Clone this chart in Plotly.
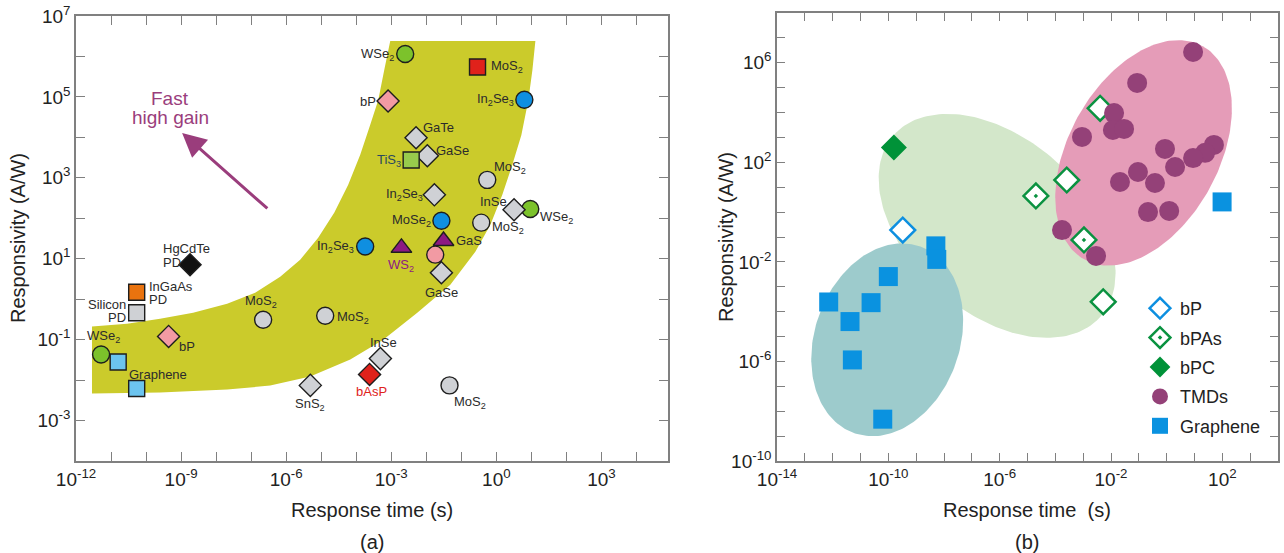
import numpy as np
import plotly.graph_objects as go

FONT = "Liberation Sans, Arial, sans-serif"
W, H = 1284, 553

# ---------------- Panel (a) data ----------------
a_labels = ["WSe<sub>2</sub>", "MoS<sub>2</sub>", "bP", "In<sub>2</sub>Se<sub>3</sub>", "GaTe", "GaSe",
            "TiS<sub>3</sub>", "MoS<sub>2</sub>", "In<sub>2</sub>Se<sub>3</sub>", "InSe", "WSe<sub>2</sub>",
            "MoSe<sub>2</sub>", "MoS<sub>2</sub>", "In<sub>2</sub>Se<sub>3</sub>", "WS<sub>2</sub>", "GaS", "",
            "GaSe", "HgCdTe|PD", "InGaAs|PD", "Silicon|PD", "MoS<sub>2</sub>", "MoS<sub>2</sub>", "bP",
            "WSe<sub>2</sub>", "", "Graphene", "SnS<sub>2</sub>", "InSe", "bAsP", "MoS<sub>2</sub>"]
a_time = [2.5e-3, 0.29, 8.1e-4, 6.3, 5.1e-3, 1.07e-2, 3.7e-3, 0.55, 1.7e-2, 3.2, 9.3,
          2.7e-2, 0.37, 1.8e-4, 1.95e-3, 3.1e-2, 1.8e-2, 2.7e-2, 1.8e-9, 5.4e-11, 5.4e-11,
          2.2e-7, 1.3e-5, 4.4e-10, 5.2e-12, 1.6e-11, 5.4e-11, 4.9e-6, 4.9e-4, 2.4e-4, 0.046]
a_resp = [1.15e6, 5.5e5, 7.9e4, 8.5e4, 9.8e3, 3.5e3, 2.75e3, 890, 380, 162, 170,
          87, 78, 20, 18.6, 27.5, 12.6, 4.5, 7.1, 1.48, 0.46,
          0.31, 0.39, 0.12, 0.043, 0.028, 6.2e-3, 7.4e-3, 0.034, 0.0138, 7.4e-3]
a_kind = ["green_circle", "red_square", "pink_diamond", "blue_circle", "grey_diamond", "grey_diamond",
          "lgreen_square", "grey_circle", "grey_diamond", "grey_diamond", "green_circle",
          "blue_circle", "grey_circle", "blue_circle", "purple_triangle", "purple_triangle", "pink_circle",
          "grey_diamond", "black_diamond", "orange_square", "grey_square", "grey_circle", "grey_circle",
          "pink_diamond", "green_circle", "lblue_square", "lblue_square", "grey_diamond", "grey_diamond",
          "red_diamond", "grey_circle"]

# high-gain band boundaries (time s, responsivity A/W)
band_upper_t = [2.86e-12, 2.86e-11, 2.51e-10, 2.2e-9, 2.06e-8, 1.3e-7, 6.75e-7, 2.51e-6, 8.2e-6,
                2.35e-5, 5.9e-5, 1.3e-4, 2.51e-4, 4.26e-4, 6.3e-4, 9.35e-4]
band_upper_r = [0.21, 0.248, 0.33, 0.465, 0.774, 1.45, 3.6, 9.44, 33, 137, 671, 3700, 2.04e4,
                8.43e4, 4.65e5, 2.42e6]
band_lower_t = [2.86e-12, 2.51e-10, 2.06e-8, 3.5e-7, 4.85e-6, 6.75e-5, 5.9e-4, 5.53e-3, 4.85e-2,
                0.251, 0.675, 1.48, 2.86, 5.18, 8.2, 10.7, 13.0]
band_lower_r = [4.65e-3, 4.9e-3, 5.82e-3, 7.3e-3, 0.0122, 0.0321, 0.1, 0.465, 2.28, 14.9, 69.2,
                380, 2094, 1.15e4, 8.43e4, 4.65e5, 2.42e6]

a_xticks = list(range(-12, 5))
a_xlabels = [-12, -9, -6, -3, 0, 3]
a_yticks = list(range(-4, 8))
a_ylabels = [-3, -1, 1, 3, 5, 7]

# ---------------- Panel (b) data ----------------
bP_t = [3.3e-10]
bP_r = [0.19]
bPAs_t = [2.0e-5, 1.07e-3, 4.07e-3, 2.57e-4, 5.25e-3]
bPAs_r = [4.47, 0.076, 1.48e4, 19.5, 2.5e-4]
bPAs_dot = [True, True, False, False, False]
bPC_t = [1.58e-10]
bPC_r = [398]
tmd_t = [8.9, 0.087, 0.0129, 0.0117, 0.0295, 9.1e-4, 0.87, 50, 24, 8.9, 2.0, 0.093, 0.021, 0.38,
         0.214, 1.23, 1.74e-4, 2.9e-3]
tmd_r = [2.7e6, 1.55e5, 9.5e3, 2.0e3, 2.2e3, 1.05e3, 347, 500, 240, 148, 65, 41, 16.2, 14.8,
         1.0, 1.12, 0.19, 0.0174]
gr_t = [5.1e-9, 5.5e-9, 1.0e-10, 7.2e-13, 2.4e-11, 4.2e-12, 5.1e-12, 6.3e-11, 98]
gr_r = [0.044, 0.0126, 2.57e-3, 2.45e-4, 2.3e-4, 4.0e-5, 1.15e-6, 4.8e-9, 2.57]

b_xticks = list(range(-14, 5))
b_xlabels = [-14, -10, -6, -2, 2]
b_yticks = list(range(-10, 9))
b_ylabels = [-10, -6, -2, 2, 6]

# ---------------- geometry / styles ----------------
XA_DOM = [76 / W, 668 / W]
YA_DOM = [1 - 461 / H, 1 - 16 / H]
XB_DOM = [777 / W, 1278 / W]
YB_DOM = [1 - 461 / H, 1 - 13 / H]
XA_RNG, YA_RNG = [-12, 4.9], [-4, 7]
XB_RNG, YB_RNG = [-14, 4], [-10, 8]

EDGE = "#1e1e1e"
STYLE = {
    "green_circle": ("circle", "#7cc22b", 17),
    "red_square": ("square", "#e0221b", 16),
    "pink_diamond": ("diamond", "#f29aa3", 17),
    "blue_circle": ("circle", "#0f8fe0", 17),
    "grey_diamond": ("diamond", "#cfd1d5", 17),
    "lgreen_square": ("square", "#98cb4c", 16),
    "grey_circle": ("circle", "#cfd1d5", 17),
    "purple_triangle": ("triangle-up", "#8d1a82", 18),
    "pink_circle": ("circle", "#f29aa3", 17),
    "black_diamond": ("diamond", "#111111", 17),
    "orange_square": ("square", "#e9730f", 16),
    "grey_square": ("square", "#cfd1d5", 16),
    "lblue_square": ("square", "#6cc4ef", 16),
    "red_diamond": ("diamond", "#e0221b", 17),
}
# label placement: (dx px, dy px up, xanchor, yanchor)
a_label_pos = [(-10, 0, "right", "middle"), (12, 0, "left", "middle"), (-11, 0, "right", "middle"),
               (-9, 0, "right", "middle"), (6, 10, "left", "middle"), (8, 5, "left", "middle"),
               (-9, 0, "right", "middle"), (6, 12, "left", "middle"), (-10, 0, "right", "middle"),
               (-6, 8, "right", "middle"), (9, -9, "left", "middle"), (-9, 0, "right", "middle"),
               (10, -5, "left", "middle"), (-10, 0, "right", "middle"), (0, -8, "center", "top"),
               (11, 0, "left", "middle"), None, (0, -11, "center", "top"),
               (-28, 16, "left", "middle"), (11, 6, "left", "middle"), (-10, 8, "right", "middle"),
               (-2, 9, "center", "bottom"), (11, -2, "left", "middle"), (9, -10, "left", "middle"),
               (2, 8, "center", "bottom"), None, (-9, 14, "left", "middle"), (0, -10, "center", "top"),
               (3, 8, "center", "bottom"), (2, -9, "center", "top"), (3, -8, "left", "top")]
# second-line offsets for two-line labels (dx px, dy px up)
SECOND_LINE = {"HgCdTe|PD": (-28, 2), "InGaAs|PD": (11, -7), "Silicon|PD": (-10, -5)}
LABEL_COLOR = {"WS<sub>2</sub>": "#8d1a82", "bAsP": "#e0221b", "TiS<sub>3</sub>": "#2a4860"}

fig = go.Figure()

# band
fig.add_trace(go.Scatter(
    x=band_upper_t + [t for t in reversed(band_lower_t)],
    y=band_upper_r + [r for r in reversed(band_lower_r)],
    mode="lines", fill="toself", fillcolor="#cbcb2b", line=dict(width=0, color="#cbcb2b"),
    xaxis="x", yaxis="y", showlegend=False, hoverinfo="skip"))

# panel a markers grouped by kind
for kind, (sym, col, size) in STYLE.items():
    idx = [i for i, k in enumerate(a_kind) if k == kind]
    fig.add_trace(go.Scatter(
        x=[a_time[i] for i in idx], y=[a_resp[i] for i in idx], mode="markers",
        marker=dict(symbol=sym, color=col, size=size, line=dict(color=EDGE, width=1.4)),
        xaxis="x", yaxis="y", showlegend=False))

annotations = []


def add_label(text, t, r, dx, dy, xa, ya, color):
    annotations.append(dict(
        x=np.log10(t), y=np.log10(r), xref="x", yref="y", text=text, showarrow=False,
        xanchor=xa, yanchor=ya, xshift=dx, yshift=dy, borderpad=0,
        font=dict(family=FONT, size=13, color=color)))


for lab, t, r, pos in zip(a_labels, a_time, a_resp, a_label_pos):
    if pos is None or not lab:
        continue
    dx, dy, xa, ya = pos
    col = LABEL_COLOR.get(lab, "#2b2b2b")
    if "|" in lab:
        first, second = lab.split("|")
        add_label(first, t, r, dx, dy, xa, ya, col)
        dx2, dy2 = SECOND_LINE[lab]
        add_label(second, t, r, dx2, dy2, xa, ya, col)
    else:
        add_label(lab, t, r, dx, dy, xa, ya, col)

# arrow + "Fast high gain"
arrow_head = (1.07e-9, 1.29e4)
arrow_tail = (3.2e-7, 162)
annotations.append(dict(x=np.log10(arrow_head[0]), y=np.log10(arrow_head[1]), ax=np.log10(arrow_tail[0]),
                        ay=np.log10(arrow_tail[1]), xref="x", yref="y", axref="x", ayref="y", text="",
                        showarrow=True, arrowhead=2, arrowsize=1.6, arrowwidth=3, arrowcolor="#9a3d7c"))
for line_txt, r_pos in [("Fast", 9.0e4), ("high gain", 3.04e4)]:
    annotations.append(dict(x=np.log10(4.9e-10), y=np.log10(r_pos), xref="x", yref="y",
                            text=line_txt, showarrow=False,
                            font=dict(family=FONT, size=19, color="#9a3d7c")))

# ---------------- Panel (b) ----------------
pxx = (XB_DOM[1] - XB_DOM[0]) * W / (XB_RNG[1] - XB_RNG[0])
pxy = (YB_DOM[1] - YB_DOM[0]) * H / (YB_RNG[1] - YB_RNG[0])
# regions: (center time, center resp, semi-axis a px, semi-axis b px, angle deg, colour)
regions = [
    (8.1e-7, 0.28, 137.6, 87.4, -41.2, "#d3e7ca"),
    (9.1e-11, 7.4e-6, 99.0, 72.5, 70.4, "#9dcbcc"),
    (0.148, 240, 122.0, 75.0, 61.0, "#e59cb8"),
]
tt = np.linspace(0, 2 * np.pi, 200)
for ct, cr, a, b, ang, col in regions:
    th = np.deg2rad(ang)
    ex = a * np.cos(tt) * np.cos(th) - b * np.sin(tt) * np.sin(th)
    ey = a * np.cos(tt) * np.sin(th) + b * np.sin(tt) * np.cos(th)
    lx = np.log10(ct) + ex / pxx
    ly = np.log10(cr) + ey / pxy
    fig.add_trace(go.Scatter(x=10 ** lx, y=10 ** ly, mode="lines", fill="toself", fillcolor=col,
                             line=dict(width=0, color=col), xaxis="x2", yaxis="y2",
                             showlegend=False, hoverinfo="skip"))

LEG_FONT = dict(family=FONT, size=18, color="#222")
fig.add_trace(go.Scatter(x=bP_t, y=bP_r, mode="markers", name="bP", legendgroup="1",
                         marker=dict(symbol="diamond", color="white", size=19,
                                     line=dict(color="#0d8fe0", width=2.5)),
                         xaxis="x2", yaxis="y2"))
fig.add_trace(go.Scatter(x=bPAs_t, y=bPAs_r, mode="markers", name="bPAs", legendgroup="2",
                         marker=dict(symbol=["diamond-dot" if d else "diamond" for d in bPAs_dot],
                                     color="white", size=19, line=dict(color="#0a9240", width=2.5)),
                         xaxis="x2", yaxis="y2"))
fig.add_trace(go.Scatter(x=bPC_t, y=bPC_r, mode="markers", name="bPC", legendgroup="3",
                         marker=dict(symbol="diamond", color="#009238", size=20,
                                     line=dict(color="#009238", width=0)),
                         xaxis="x2", yaxis="y2"))
fig.add_trace(go.Scatter(x=tmd_t, y=tmd_r, mode="markers", name="TMDs", legendgroup="4",
                         marker=dict(symbol="circle", color="#944178", size=20,
                                     line=dict(color="#944178", width=0)),
                         xaxis="x2", yaxis="y2"))
fig.add_trace(go.Scatter(x=gr_t, y=gr_r, mode="markers", name="Graphene", legendgroup="5",
                         marker=dict(symbol="square", color="#0a92e0", size=19,
                                     line=dict(color="#0a92e0", width=0)),
                         xaxis="x2", yaxis="y2"))


def sup(n):
    return "10<sup>%d</sup>" % n


AX_COMMON = dict(type="log", showline=True, linecolor="#808080", linewidth=1.5, mirror="ticks",
                 ticks="inside", tickcolor="#808080", tickwidth=1.2, showgrid=False, zeroline=False,
                 automargin=False, tickfont=dict(family=FONT, size=19, color="#222"))

fig.update_layout(
    width=W, height=H, margin=dict(l=0, r=0, t=0, b=0, autoexpand=False),
    paper_bgcolor="white", plot_bgcolor="white",
    font=dict(family=FONT),
    xaxis=dict(domain=XA_DOM, range=XA_RNG, anchor="y", ticklen=9,
               tickvals=[10.0 ** v for v in a_xticks],
               ticktext=[sup(v) if v in a_xlabels else "" for v in a_xticks], **AX_COMMON),
    yaxis=dict(domain=YA_DOM, range=YA_RNG, anchor="x", ticklen=9,
               tickvals=[10.0 ** v for v in a_yticks],
               ticktext=[sup(v) if v in a_ylabels else "" for v in a_yticks], **AX_COMMON),
    xaxis2=dict(domain=XB_DOM, range=XB_RNG, anchor="y2", ticklen=8,
                tickvals=[10.0 ** v for v in b_xticks],
                ticktext=[sup(v) if v in b_xlabels else "" for v in b_xticks], **AX_COMMON),
    yaxis2=dict(domain=YB_DOM, range=YB_RNG, anchor="x2", ticklen=8,
                tickvals=[10.0 ** v for v in b_yticks],
                ticktext=[sup(v) if v in b_ylabels else "" for v in b_yticks], **AX_COMMON),
    legend=dict(x=1140 / W, y=1 - 290 / H, xanchor="left", yanchor="top", font=LEG_FONT,
                bgcolor="rgba(0,0,0,0)", itemsizing="trace", tracegroupgap=3, traceorder="grouped"),
    showlegend=True,
)

TITLE_FONT = dict(family=FONT, size=20, color="#222")
for txt, x, y, ang in [("Response time (s)", 372, 510, 0), ("Response time  (s)", 1027, 510, 0),
                       ("Responsivity (A/W)", 18, 238, -90), ("Responsivity (A/W)", 726, 237, -90),
                       ("(a)", 372, 542, 0), ("(b)", 1027, 542, 0)]:
    annotations.append(dict(x=x / W, y=1 - y / H, xref="paper", yref="paper", text=txt, showarrow=False,
                            textangle=ang, xanchor="center", yanchor="middle", font=TITLE_FONT))

fig.update_layout(annotations=annotations)
fig.write_html("out.html")
